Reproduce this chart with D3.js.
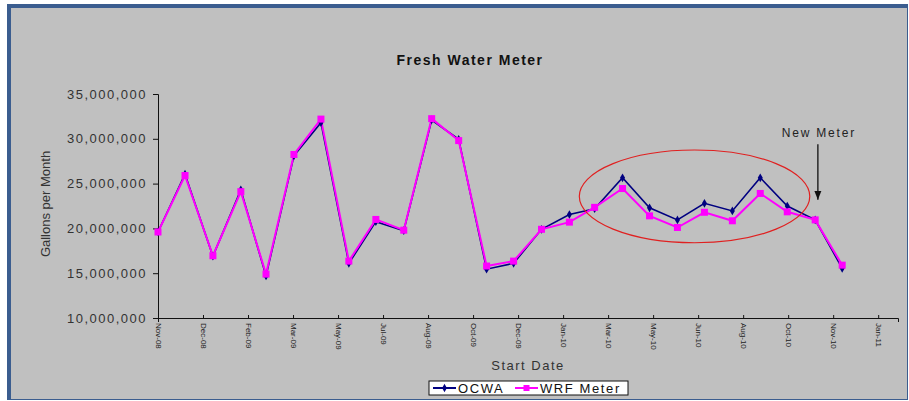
<!DOCTYPE html>
<html>
<head>
<meta charset="utf-8">
<script src="https://cdn.jsdelivr.net/npm/d3@7"></script>
<style>
  body { margin: 0; background: #fff; }
  text { font-family: "Liberation Sans", Arial, sans-serif; }
</style>
</head>
<body>
<div class="chart"></div>
<script>
var svgWidth = 909;
var svgHeight = 401;

var margin = { top: 94, right: 11, bottom: 83, left: 158 };
var width = svgWidth - margin.left - margin.right;
var height = svgHeight - margin.top - margin.bottom;

// data, one point a month, Nov-08 .. Dec-10
var months = ["2008-11", "2008-12", "2009-01", "2009-02", "2009-03", "2009-04", "2009-05",
  "2009-06", "2009-07", "2009-08", "2009-09", "2009-10", "2009-11", "2009-12",
  "2010-01", "2010-02", "2010-03", "2010-04", "2010-05", "2010-06", "2010-07",
  "2010-08", "2010-09", "2010-10", "2010-11", "2010-12"];
var ocwa = [19.6, 26.05, 16.9, 24.3, 14.7, 28.1, 31.8, 16.1, 20.75, 19.75, 32.1, 29.95, 15.45,
  16.1, 19.9, 21.55, 22.2, 25.65, 22.3, 20.95, 22.8, 21.95, 25.65, 22.5, 20.95, 15.55];
var wrf = [19.6, 25.9, 16.95, 24.1, 14.9, 28.25, 32.2, 16.35, 21.0, 19.8, 32.25, 29.8, 15.8,
  16.35, 19.9, 20.7, 22.35, 24.45, 21.4, 20.1, 21.8, 20.85, 23.9, 21.85, 20.95, 15.9];
var yTicks = [10, 15, 20, 25, 30, 35]; // millions
var seriesNames = ["OCWA", "WRF Meter"];
var seriesColors = ["#000080", "#ff00ff"];

var parseMonth = d3.timeParse("%Y-%m");
var parseDay = d3.timeParse("%Y-%m-%d");
var startDay = parseMonth("2008-11");
var endDay = d3.timeDay.offset(startDay, 822);
// excel date axis: a label every 50 days
var xTicks = d3.range(0, 801, 50).map((k) => d3.timeDay.offset(startDay, k));

var data = months.map((m, i) => ({ date: parseMonth(m), ocwa: ocwa[i] * 1e6, wrf: wrf[i] * 1e6 }));

var svg = d3.select(".chart").append("svg")
  .attr("width", svgWidth)
  .attr("height", svgHeight);

// frame
svg.append("rect").attr("x", 7).attr("y", 4).attr("width", 901).attr("height", 396)
  .attr("fill", "#3b5d8f");
svg.append("rect").attr("x", 11).attr("y", 8).attr("width", 896).attr("height", 391)
  .attr("fill", "#c0c0c0");

var chartGroup = svg.append("g")
  .attr("transform", `translate(${margin.left}, ${margin.top})`);

var xScale = d3.scaleTime().domain([startDay, endDay]).range([0, width]);
var yScale = d3.scaleLinear().domain([10e6, 35e6]).range([height, 0]);

// title
svg.append("text")
  .attr("x", 470).attr("y", 65)
  .style("text-anchor", "middle")
  .style("font-size", "14px")
  .style("font-weight", "bold")
  .style("letter-spacing", "1.5px")
  .attr("fill", "#111")
  .text("Fresh Water Meter");

// axes
var leftAxis = d3.axisLeft(yScale)
  .tickValues(yTicks.map((v) => v * 1e6))
  .tickFormat(d3.format(","))
  .tickSizeOuter(0)
  .tickSize(5);
var yAxis = chartGroup.append("g").call(leftAxis);
yAxis.select(".domain").attr("stroke", "#111");
yAxis.selectAll(".tick line").attr("stroke", "#111");
yAxis.selectAll("text")
  .attr("x", -11)
  .style("font-size", "13px")
  .style("letter-spacing", "1.5px")
  .attr("fill", "#333")
  .attr("font-family", null);

var bottomAxis = d3.axisBottom(xScale)
  .tickValues(xTicks)
  .tickFormat(d3.timeFormat("%b-%y"))
  .tickSizeOuter(0)
  .tickSize(4);
var xAxis = chartGroup.append("g")
  .attr("transform", `translate(0,${height})`)
  .call(bottomAxis);
xAxis.select(".domain").attr("stroke", "#111");
xAxis.selectAll(".tick line").attr("stroke", "#111").attr("y1", -3).attr("y2", 1);
xAxis.selectAll("text")
  .attr("transform", "rotate(90)")
  .attr("x", 5).attr("y", 0).attr("dy", "0.35em")
  .style("text-anchor", "start")
  .style("font-size", "8px")
  .attr("fill", "#222")
  .attr("font-family", null);

// axis titles
chartGroup.append("text")
  .attr("transform", "rotate(-90)")
  .attr("x", -height / 2 + 2)
  .attr("y", -108)
  .style("text-anchor", "middle")
  .style("font-size", "13px")
  .attr("fill", "#333")
  .text("Gallons per Month");

svg.append("text")
  .attr("x", 528).attr("y", 370)
  .style("text-anchor", "middle")
  .style("font-size", "13px")
  .style("letter-spacing", "1.5px")
  .attr("fill", "#333")
  .text("Start Date");

// lines
var keys = ["ocwa", "wrf"];
keys.forEach((key, i) => {
  chartGroup.append("path")
    .datum(data)
    .attr("fill", "none")
    .attr("stroke", seriesColors[i])
    .attr("stroke-width", i === 0 ? 1.6 : 2)
    .attr("d", d3.line().x((d) => xScale(d.date)).y((d) => yScale(d[key])));
});

// markers: diamonds for OCWA, squares for WRF
chartGroup.selectAll(".ocwa-pt").data(data).enter().append("path")
  .attr("class", "ocwa-pt")
  .attr("transform", (d) => `translate(${xScale(d.date)},${yScale(d.ocwa)})`)
  .attr("d", d3.symbol().type(d3.symbolDiamond).size(22))
  .attr("fill", seriesColors[0]);
chartGroup.selectAll(".wrf-pt").data(data).enter().append("rect")
  .attr("class", "wrf-pt")
  .attr("x", (d) => xScale(d.date) - 3.5)
  .attr("y", (d) => yScale(d.wrf) - 3.5)
  .attr("width", 7).attr("height", 7)
  .attr("fill", seriesColors[1]);

// annotation ellipse around the 2010 gap between meters
var ellX = [parseDay("2010-02-12"), parseDay("2010-10-26")];
var ellY = [18.4e6, 28.75e6];
chartGroup.append("ellipse")
  .attr("cx", (xScale(ellX[0]) + xScale(ellX[1])) / 2)
  .attr("cy", (yScale(ellY[0]) + yScale(ellY[1])) / 2)
  .attr("rx", (xScale(ellX[1]) - xScale(ellX[0])) / 2)
  .attr("ry", (yScale(ellY[0]) - yScale(ellY[1])) / 2)
  .attr("fill", "none")
  .attr("stroke", "#e02020")
  .attr("stroke-width", 1.2);

// "New Meter" arrow
var meterX = xScale(parseDay("2010-11-04"));
svg.append("defs").append("marker")
  .attr("id", "arrow")
  .attr("viewBox", "0 0 10 10")
  .attr("refX", 10).attr("refY", 5)
  .attr("markerWidth", 7).attr("markerHeight", 7)
  .attr("orient", "auto")
  .append("path").attr("d", "M0,1 L10,5 L0,9 z").attr("fill", "#111");
chartGroup.append("line")
  .attr("x1", meterX).attr("x2", meterX)
  .attr("y1", yScale(29.4e6)).attr("y2", yScale(23.2e6))
  .attr("stroke", "#111").attr("stroke-width", 1.3)
  .attr("marker-end", "url(#arrow)");
chartGroup.append("text")
  .attr("x", meterX + 1).attr("y", yScale(29.9e6) - 3)
  .style("text-anchor", "middle")
  .style("font-size", "12px")
  .style("letter-spacing", "1.8px")
  .attr("fill", "#222")
  .text("New Meter");

// legend
var legend = svg.append("g").attr("transform", "translate(429,381)");
legend.append("rect").attr("width", 199).attr("height", 14)
  .attr("fill", "#fff").attr("stroke", "#111").attr("stroke-width", 1);
var legX = [4, 86];
seriesNames.forEach((name, i) => {
  var g = legend.append("g").attr("transform", `translate(${legX[i]},7)`);
  g.append("line").attr("x1", 0).attr("x2", 23).attr("stroke", seriesColors[i]).attr("stroke-width", 2);
  if (i === 0) {
    g.append("path").attr("transform", "translate(11.5,0)")
      .attr("d", d3.symbol().type(d3.symbolDiamond).size(20)).attr("fill", seriesColors[i]);
  } else {
    g.append("rect").attr("x", 8.5).attr("y", -3).attr("width", 6).attr("height", 6).attr("fill", seriesColors[i]);
  }
  g.append("text").attr("x", 25).attr("y", 5)
    .style("font-size", "13px")
    .style("letter-spacing", "1.6px")
    .attr("fill", "#111")
    .text(name);
});
</script>
</body>
</html>
